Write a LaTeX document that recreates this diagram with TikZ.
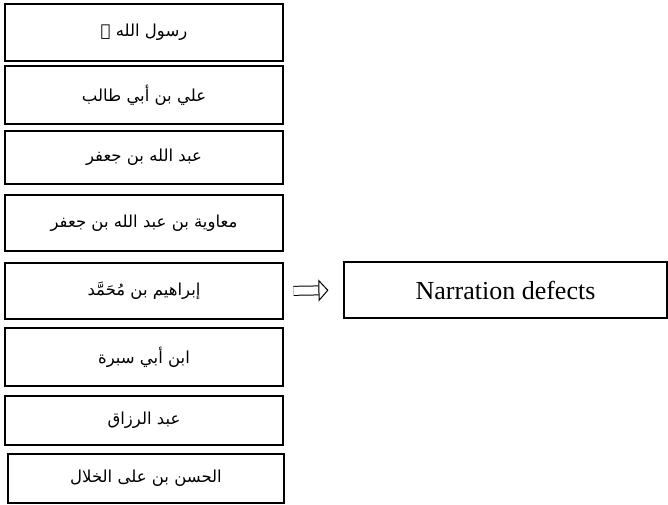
\documentclass[tikz,border=0pt]{standalone}
\usepackage{fontspec}
\setmainfont{Liberation Serif}
\newfontfamily\arabicfont[Script=Arabic]{DejaVu Sans}
\TeXXeTstate=1
\usetikzlibrary{arrows.meta}

\begin{document}
\begin{tikzpicture}[x=1pt, y=-1pt,
	narrator/.style={draw, line width=1.1pt, inner sep=0pt, minimum width=278pt, font=\arabicfont\fontsize{16.5}{20}\selectfont},
	defectbox/.style={draw, line width=1.1pt, inner sep=0pt, minimum width=323pt, minimum height=56pt, font=\fontsize{26}{30}\selectfont}]
			%%%%% START %%%%%
			
			\useasboundingbox (0, 0) rectangle (668, 505);
			
			\node[narrator, minimum height=57pt] (rasul) at (144, 32.5) {\beginR رسول الله ﷺ\endR};
			\node[narrator, minimum height=58pt] (ali) at (144, 95) {\beginR علي بن أبي طالب\endR};
			\node[narrator, minimum height=53pt] (abdallah) at (144, 157.5) {\beginR عبد الله بن جعفر\endR};
			\node[narrator, minimum height=56pt] (muawiya) at (144, 223) {\beginR معاوية بن عبد الله بن جعفر\endR};
			\node[narrator, minimum height=56pt] (ibrahim) at (144, 291) {\beginR إبراهيم بن مُحَمَّد\endR};
			\node[narrator, minimum height=58pt] (sabra) at (144, 357) {\beginR ابن أبي سبرة\endR};
			\node[narrator, minimum height=49pt] (razzaq) at (144, 420.5) {\beginR عبد الرزاق\endR};
			\node[narrator, minimum height=49pt, minimum width=276pt] (khallal) at (146, 478.5) {\beginR الحسن بن على الخلال\endR};
			
			\node[defectbox] (defects) at (505.5, 290) {Narration defects};
			
			\draw[line width=1pt, double, double distance=8pt, shorten <=10pt, shorten >=15pt,
				-{Triangle[open, length=10pt, width=22pt, line width=1pt]}] (ibrahim.east) -- (defects.west);
			
			%%%%% END %%%%%
\end{tikzpicture}
\end{document}
